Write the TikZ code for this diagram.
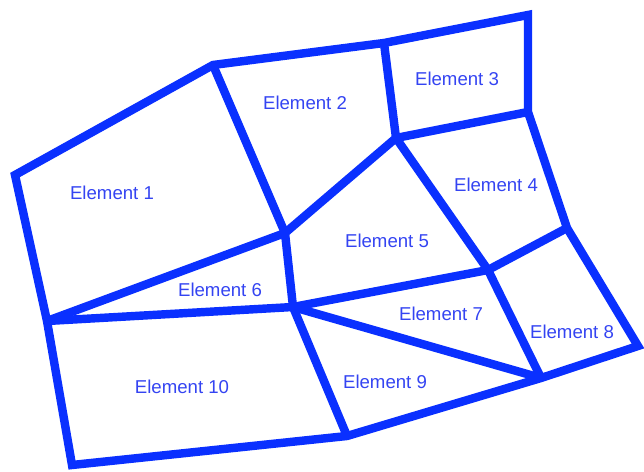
\documentclass[tikz,border=0pt]{standalone}
\usepackage{fontspec}
\setmainfont{Liberation Sans}
\usetikzlibrary{positioning}
\definecolor{meshblue}{HTML}{0A30FF}
\definecolor{labelblue}{HTML}{3444F2}

\begin{document}
\begin{tikzpicture}[
  x=0.02cm, y=-0.02cm,
  edge/.style={draw=meshblue, line width=4.8pt, line join=miter},
  elem/.style={text=labelblue, font=\fontsize{10.6pt}{12pt}\selectfont, inner sep=0pt},
]
\useasboundingbox (0,0) rectangle (644,472);
% mesh nodes
\coordinate (a) at (15,175);
\coordinate (b) at (213,65);
\coordinate (c) at (384,43);
\coordinate (d) at (528,15);
\coordinate (e) at (528,112);
\coordinate (f) at (396,138);
\coordinate (g) at (285,233);
\coordinate (h) at (567,228);
\coordinate (i) at (488,270);
\coordinate (j) at (293,307);
\coordinate (k) at (47,321);
\coordinate (l) at (638,346);
\coordinate (m) at (541,378);
\coordinate (n) at (347,436);
\coordinate (o) at (72,465);
% outer boundary
\draw[edge] (a) -- (b) -- (c) -- (d) -- (e) -- (h) -- (l) -- (m) -- (n) -- (o) -- (k) -- cycle;
% inner edges
\draw[edge] (b) -- (g);
\draw[edge] (c) -- (f);
\draw[edge] (f) -- (e);
\draw[edge] (g) -- (f);
\draw[edge] (f) -- (i);
\draw[edge] (h) -- (i);
\draw[edge] (k) -- (g);
\draw[edge] (g) -- (j);
\draw[edge] (k) -- (j);
\draw[edge] (j) -- (i);
\draw[edge] (j) -- (m);
\draw[edge] (i) -- (m);
\draw[edge] (j) -- (n);
% labels
\node[elem] (e1) at (112,193) {Element 1};
\node[elem] (e2) at (305,103) {Element 2};
\node[elem] (e3) at (457,79) {Element 3};
\node[elem] (e4) at (496,185) {Element 4};
\node[elem] (e5) at (387,241) {Element 5};
\node[elem] (e6) at (220,290) {Element 6};
\node[elem] (e7) at (441,314) {Element 7};
\node[elem] (e8) at (572,332) {Element 8};
\node[elem] (e9) at (385,382) {Element 9};
\node[elem] (e10) at (182,387) {Element 10};
\end{tikzpicture}
\end{document}
